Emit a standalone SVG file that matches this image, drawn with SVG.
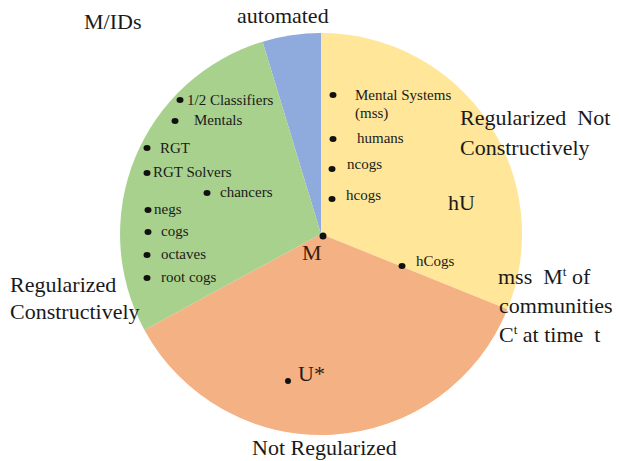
<svg xmlns="http://www.w3.org/2000/svg" width="619" height="461" viewBox="0 0 619 461">
<style>
text{font-family:'Liberation Serif','Times New Roman','DejaVu Serif',serif;white-space:pre}
.big{font-size:22px;fill:#1a1a1a}
.sm{font-size:15px;fill:#1a1a1a}
.dot{fill:#111}
</style>
<rect width="619" height="461" fill="#fff"/>
<g id="slice-automated"><path d="M321,234 L262.6,41.7 A201,201 0 0 1 321,33 Z" fill="#8FAADC"/></g>
<g id="slice-regularized-not-constructively"><path d="M321,234 L321,33 A201,201 0 0 1 507.4,309.3 Z" fill="#FFE699"/></g>
<g id="slice-not-regularized"><path d="M321,234 L507.4,309.3 A201,201 0 0 1 144.4,329.9 Z" fill="#F4B183"/></g>
<g id="slice-regularized-constructively"><path d="M321,234 L144.4,329.9 A201,201 0 0 1 262.6,41.7 Z" fill="#A9D18E"/></g>
<g id="connectors"></g>
<g id="labels">
<text class="big" x="84" y="29">M/IDs</text>
<text class="big" x="237" y="23">automated</text>
<text class="big" x="460" y="125">Regularized  Not</text>
<text class="big" x="460" y="155">Constructively</text>
<text class="big" x="448" y="210">hU</text>
<text class="big" x="498" y="284">mss  M<tspan font-size="13" dy="-8">t</tspan><tspan dy="8"> of</tspan></text>
<text class="big" x="499" y="313">communities</text>
<text class="big" x="499" y="342">C<tspan font-size="13" dy="-8">t</tspan><tspan dy="8"> at time  t</tspan></text>
<text class="big" x="10" y="292">Regularized</text>
<text class="big" x="10" y="319">Constructively</text>
<text class="big" x="252" y="455">Not Regularized</text>
<text class="big" x="302" y="260" style="fill:#3a2012">M</text>
<text class="big" x="298" y="381" style="fill:#2a1a12">U*</text>
</g>
<g id="items">
<ellipse class="dot" cx="180" cy="100" rx="3.5" ry="3"/><text class="sm" x="187" y="105">1/2 Classifiers</text>
<ellipse class="dot" cx="175" cy="121" rx="3.5" ry="3"/><text class="sm" x="194" y="125">Mentals</text>
<ellipse class="dot" cx="147" cy="148" rx="3.5" ry="3"/><text class="sm" x="160" y="153">RGT</text>
<ellipse class="dot" cx="147" cy="173" rx="3.5" ry="3"/><text class="sm" x="153" y="177">RGT Solvers</text>
<ellipse class="dot" cx="207" cy="193" rx="3.5" ry="3"/><text class="sm" x="220" y="197">chancers</text>
<ellipse class="dot" cx="148" cy="210" rx="3.5" ry="3"/><text class="sm" x="154" y="214">negs</text>
<ellipse class="dot" cx="148" cy="232" rx="3.5" ry="3"/><text class="sm" x="161" y="236">cogs</text>
<ellipse class="dot" cx="147" cy="255" rx="3.5" ry="3"/><text class="sm" x="161" y="259">octaves</text>
<ellipse class="dot" cx="147" cy="278" rx="3.5" ry="3"/><text class="sm" x="161" y="282">root cogs</text>
<ellipse class="dot" cx="333" cy="95" rx="3.5" ry="3"/><text class="sm" x="355" y="100">Mental Systems</text>
<text class="sm" x="355" y="118">(mss)</text>
<ellipse class="dot" cx="333" cy="139" rx="3.5" ry="3"/><text class="sm" x="357" y="143">humans</text>
<ellipse class="dot" cx="332" cy="169" rx="3.5" ry="3"/><text class="sm" x="347" y="169">ncogs</text>
<ellipse class="dot" cx="332" cy="199" rx="3.5" ry="3"/><text class="sm" x="346" y="200">hcogs</text>
<ellipse class="dot" cx="402" cy="266" rx="3.5" ry="3"/><text class="sm" x="416" y="266">hCogs</text>
<ellipse class="dot" cx="323" cy="236" rx="3.5" ry="3.5"/>
<ellipse class="dot" cx="288" cy="381" rx="3" ry="3"/>
</g>
</svg>
